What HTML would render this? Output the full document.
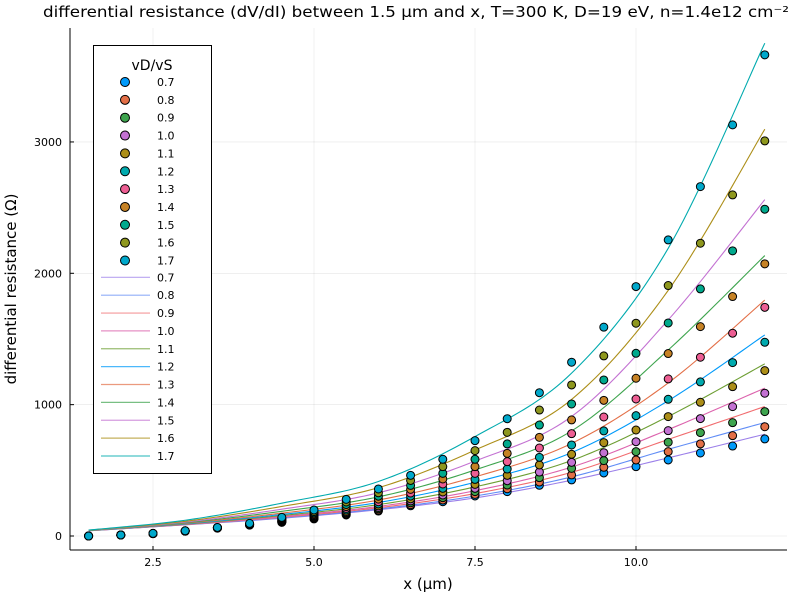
<!DOCTYPE html>
<html><head><meta charset="utf-8"><style>
html,body{margin:0;padding:0;background:#fff}
svg{display:block;font-family:"DejaVu Sans","Liberation Sans",sans-serif}
</style></head><body>
<svg id="chart" width="800" height="600" viewBox="0 0 800 600" xmlns="http://www.w3.org/2000/svg">
<rect x="0" y="0" width="800" height="600" fill="#fff"/>
<text x="43" y="17" font-size="15" textLength="746" lengthAdjust="spacingAndGlyphs">differential resistance (dV/dI) between 1.5 μm and x, T=300 K, D=19 eV, n=1.4e12 cm⁻²</text>
<g id="grid"></g>
<g id="lines"></g>
<g id="dots"></g>
<g id="axes"></g>
<text x="428" y="589" font-size="15" text-anchor="middle">x (μm)</text>
<text transform="translate(16,289) rotate(-90)" font-size="15" text-anchor="middle">differential resistance (Ω)</text>
<g id="legend"></g>
</svg>
<script>
const labels = ["0.7","0.8","0.9","1.0","1.1","1.2","1.3","1.4","1.5","1.6","1.7"];
const xs = [1.5,2,2.5,3,3.5,4,4.5,5,5.5,6,6.5,7,7.5,8,8.5,9,9.5,10,10.5,11,11.5,12];
const s07 = [0,8,18,37,60,83,104,130,160,190,230,261,305,338,386,427,480,528,579,632,685,739];
const s08 = [0,8,18,37,60,84,106,133,165,197,239,274,317,360,411,465,523,579,642,701,764,832];
const s09 = [0,8,18,37,61,84,108,137,172,207,253,292,338,388,444,515,574,642,714,787,863,947];
const s10 = [0,8,19,38,61,85,110,141,179,217,267,312,363,421,487,561,634,718,802,894,985,1087];
const s11 = [0,8,19,38,62,86,113,146,187,229,283,335,393,462,541,622,711,807,909,1018,1137,1259];
const s12 = [0,8,19,38,62,87,116,152,198,244,304,363,431,510,599,693,800,916,1041,1173,1320,1475];
const s13 = [0,8,19,38,63,88,120,159,210,261,327,396,477,566,670,779,906,1043,1196,1361,1544,1741];
const s14 = [0,8,19,39,63,90,125,167,224,281,355,434,528,629,751,884,1033,1201,1389,1594,1823,2072];
const s15 = [0,8,20,39,64,92,129,176,240,303,385,477,584,701,845,1005,1188,1391,1622,1881,2171,2488];
const s16 = [0,8,20,40,64,94,136,186,259,329,423,528,650,789,959,1150,1371,1620,1907,2229,2597,3008];
const s17 = [0,8,20,40,65,96,142,198,279,358,462,584,726,893,1091,1323,1590,1899,2254,2660,3130,3663];
const series = [s07,s08,s09,s10,s11,s12,s13,s14,s15,s16,s17];
const fitXs = [1.5,3,4.5,6,7.5,9,10.5,12];
const f07 = [40,85,135,200,290,425,595,775];
const f08 = [40,86,138,206,304,450,660,864];
const f09 = [40,87,143,215,323,485,735,986];
const f10 = [41,89,149,225,345,525,810,1126];
const f11 = [41,91,156,239,374,575,910,1311];
const f12 = [41,94,164,255,409,635,1030,1531];
const f13 = [42,97,174,274,450,705,1165,1796];
const f14 = [42,101,188,298,503,800,1416,2135];
const f15 = [43,106,204,329,570,910,1645,2561];
const f16 = [44,112,225,368,654,1040,1870,3097];
const f17 = [45,120,250,415,757,1240,2190,3752];
const fits = [f07,f08,f09,f10,f11,f12,f13,f14,f15,f16,f17];
const xTicks = [2.5,5.0,7.5,10.0];
const xTickLabels = ["2.5","5.0","7.5","10.0"];
const yTicks = [0,1000,2000,3000];
const yTickLabels = ["0","1000","2000","3000"];

const dotColors = ["#009AFA","#E36F47","#3EA44E","#C371D2","#AC8E18","#00AAAE","#ED5E93","#C68225","#00A98D","#8E971E","#00A8CB"];
const lineColors = ["#9B7FE9","#618DF6","#F16C6F","#DC63AD","#6D9E33","#009AFA","#E36F47","#3EA44E","#C371D2","#AC8E18","#00AAAE"];
const NS="http://www.w3.org/2000/svg";
const L=70,R=787,T=28,B=550;
function X(v){return 153+(v-2.5)*64.4;}
function Y(v){return 536-v*0.13135;}
function mk(tag,attrs,parent){const e=document.createElementNS(NS,tag);for(const k in attrs)e.setAttribute(k,attrs[k]);parent.appendChild(e);return e;}
const grid=document.getElementById('grid'),axes=document.getElementById('axes');
xTicks.forEach((t,i)=>{
  const g=mk('line',{x1:X(t),x2:X(t),y1:T,y2:B,stroke:'#000','stroke-opacity':0.1,'stroke-width':0.6},grid);
  
  
  const tk=mk('line',{x1:X(t),x2:X(t),y1:B,y2:B-4,stroke:'#000','stroke-width':1},axes);
  
  
  const tx=mk('text',{x:X(t),y:B+16,'font-size':11,'text-anchor':'middle'},axes);
  tx.textContent=xTickLabels[i];
  
  
});
yTicks.forEach((t,i)=>{
  const g=mk('line',{x1:L,x2:R,y1:Y(t),y2:Y(t),stroke:'#000','stroke-opacity':0.1,'stroke-width':0.6},grid);
  
  
  const tk=mk('line',{x1:L,x2:L+4,y1:Y(t),y2:Y(t),stroke:'#000','stroke-width':1},axes);
  
  
  const tx=mk('text',{x:L-8,y:Y(t)+4,'font-size':11,'text-anchor':'end'},axes);
  tx.textContent=yTickLabels[i];
  
  
});
const ax1=mk('line',{x1:L,x2:L,y1:T,y2:B,stroke:'#000','stroke-width':1},axes);


const ax2=mk('line',{x1:L,x2:R,y1:B,y2:B,stroke:'#000','stroke-width':1},axes);



function curve(xv,yv){
  let d='';const n=xv.length;
  for(let i=0;i<n-1;i++){
    const x0=xv[Math.max(i-1,0)],y0=yv[Math.max(i-1,0)],x1=xv[i],y1=yv[i],x2=xv[i+1],y2=yv[i+1],x3=xv[Math.min(i+2,n-1)],y3=yv[Math.min(i+2,n-1)];
    for(let s=0;s<=20;s++){
      const t=s/20,t2=t*t,t3=t2*t;
      const px=0.5*((2*x1)+(-x0+x2)*t+(2*x0-5*x1+4*x2-x3)*t2+(-x0+3*x1-3*x2+x3)*t3);
      const py=0.5*((2*y1)+(-y0+y2)*t+(2*y0-5*y1+4*y2-y3)*t2+(-y0+3*y1-3*y2+y3)*t3);
      d+=(d?'L':'M')+X(px).toFixed(2)+','+Y(py).toFixed(2);
    }
  }
  return d;
}
const lg=document.getElementById('lines');
fits.forEach((f,k)=>{
  const p=mk('path',{d:curve(fitXs,f),fill:'none',stroke:lineColors[k],'stroke-width':1.1},lg);
  
  
});
const dg=document.getElementById('dots');
series.forEach((s,k)=>{
  s.forEach((v,i)=>{
    const c=mk('circle',{cx:X(xs[i]),cy:Y(v),r:4,fill:dotColors[k],stroke:'#000','stroke-width':1},dg);
    
    
  });
});
const leg=document.getElementById('legend');
const box=mk('rect',{x:93.5,y:45.5,width:118,height:428,fill:'#fff',stroke:'#000','stroke-width':1},leg);


const lt=mk('text',{x:152,y:70,'font-size':14,'text-anchor':'middle'},leg);
lt.textContent='vD/vS';


labels.forEach((lab,k)=>{
  const y=82+k*17.85;
  const c=mk('circle',{cx:125,cy:y,r:4.5,fill:dotColors[k],stroke:'#000','stroke-width':1},leg);
  
  
  const t=mk('text',{x:157,y:y+4,'font-size':11},leg);
  t.textContent=lab;
  
  
});
labels.forEach((lab,k)=>{
  const y=277.3+k*17.87;
  const l=mk('line',{x1:101,x2:150,y1:y,y2:y,stroke:lineColors[k],'stroke-width':1.2,'stroke-opacity':0.7},leg);
  
  
  const t=mk('text',{x:157,y:y+4,'font-size':11},leg);
  t.textContent=lab;
  
  
});
</script>
</body></html>
